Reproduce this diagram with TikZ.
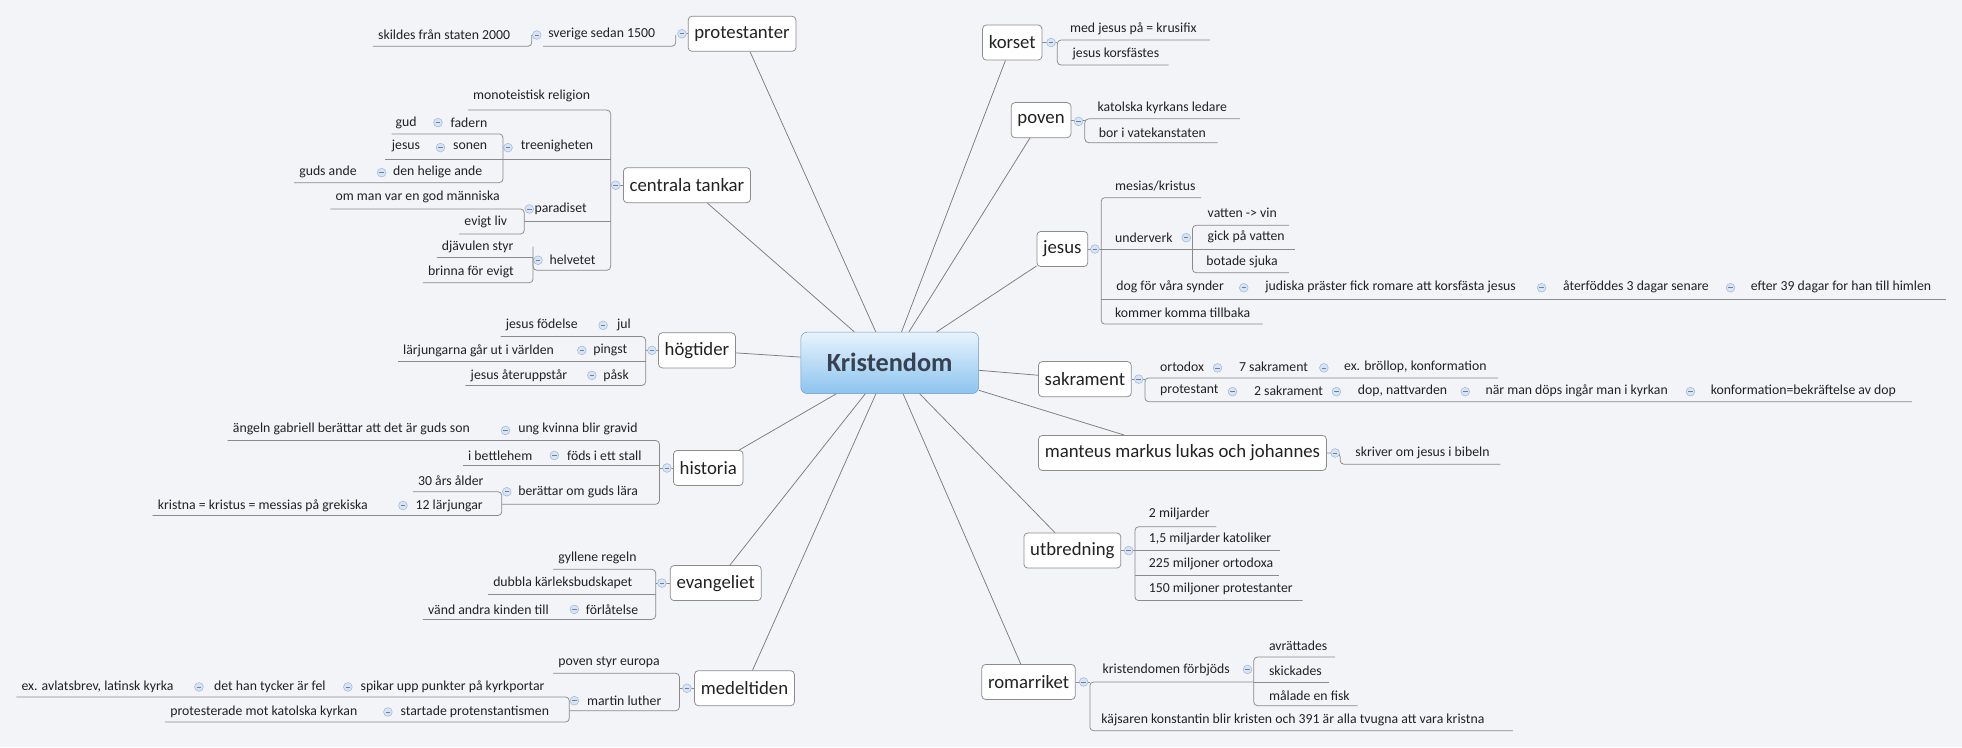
\documentclass[tikz,border=0pt]{standalone}
\usepackage{fontspec}
\setmainfont{Carlito}
\definecolor{bg}{HTML}{F2F4F8}
\definecolor{ln}{HTML}{8A8A8A}
\definecolor{bx}{HTML}{8C8C8C}
\definecolor{txt}{HTML}{222222}
\definecolor{icf}{HTML}{D6E4F5}
\definecolor{icd}{HTML}{9DB7DC}
\definecolor{kt}{HTML}{E8F3FD}
\definecolor{kb}{HTML}{8CC4EF}
\definecolor{kd}{HTML}{6A9CC9}
\definecolor{ktx}{HTML}{374150}
\newcommand\Lt[4]{\node[lt,anchor=east] (#1) at (#2,#3) {#4};}
\newcommand\Rt[4]{\node[lt,anchor=west] (#1) at (#2,#3) {#4};}
\newcommand\ci[2]{\node[ico] at (#1,#2) {};}
\begin{document}
\begin{tikzpicture}[x=1pt,y=-1pt,
  lt/.style={font=\fontsize{11}{12}\selectfont, text=txt, inner sep=0pt},
  topic/.style={draw=bx, fill=white, rounded corners=3pt, font=\fontsize{15}{16}\selectfont, text=txt, inner xsep=5pt, minimum height=28pt, line width=0.6pt},
  ul/.style={draw=ln, line width=0.6pt, rounded corners=3pt},
  ml/.style={draw=ln!90!black, line width=0.6pt},
  ico/.style={circle, minimum size=7pt, inner sep=0pt, fill=icf, draw=icd, line width=0.4pt,
    path picture={\draw[icd!70!black,line width=0.5pt] ([xshift=-1.8pt]path picture bounding box.center) -- ([xshift=1.8pt]path picture bounding box.center);}}]
\fill[bg] (0,0) rectangle (1568,597);
\useasboundingbox (0,0) rectangle (1568,597);

% centre
\node[draw=kd, rounded corners=5pt, top color=kt, bottom color=kb, minimum width=142pt, minimum height=49pt, font=\bfseries\fontsize{21}{24}\selectfont, text=ktx] (K) at (711,290) {Kristendom};

% main topics
\node[topic] (prot) at (593,27) {protestanter};
\node[topic] (cent) at (549,148) {centrala tankar};
\node[topic] (hogt) at (557,280) {högtider};
\node[topic] (hist) at (566,374) {historia};
\node[topic] (evan) at (572,466) {evangeliet};
\node[topic] (mede) at (595,550) {medeltiden};
\node[topic] (kors) at (809,34) {korset};
\node[topic] (pove) at (832,96) {poven};
\node[topic] (jesu) at (849,199) {jesus};
\node[topic] (sakr) at (867,303) {sakrament};
\node[topic] (mant) at (945,362) {manteus markus lukas och johannes};
\node[topic] (utbr) at (857,440) {utbredning};
\node[topic] (roma) at (822,545) {romarriket};

\foreach \t in {prot,cent,hogt,hist,evan,mede,kors,pove,jesu,sakr,mant,utbr,roma}
  \draw[ml] (K) -- (\t);

% ---------- protestanter
\draw[ul] (prot.west) -- (548,27);
\draw[ul] (434,37) -- (540,37) -- (540,28);
\draw[ul] (298,37) -- (425,37) -- (425,28);
\ci{545}{27}\ci{429}{28}
\Rt{p1}{438}{27}{sverige sedan 1500}
\Rt{p2}{302}{28}{skildes från staten 2000}

% ---------- centrala tankar
\draw[ul] (374,88) -- (488,88) -- (488,216) -- (426,216) -- (426,197);
\draw[ul] (488,148) -- (cent.west);
\ci{492}{148}
\Rt{c1}{378}{77}{monoteistisk religion}
\Rt{c2}{416}{117}{treenigheten}\ci{406}{118}
\draw[ul] (308,127) -- (488,127);
\draw[ul] (313,107) -- (402,107) -- (402,146) -- (235,146);
\Rt{c21}{360}{98}{fadern}\ci{350}{98}\Rt{c211}{316}{98}{gud}
\Rt{c22}{362}{117}{sonen}\ci{352}{118}\Rt{c221}{313}{117}{jesus}
\Rt{c23}{314}{137}{den helige ande}\ci{305}{138}\Rt{c231}{239}{137}{guds ande}
\Rt{c3}{427}{167}{paradiset}\ci{423}{167}
\draw[ul] (419,177) -- (488,177);
\draw[ul] (264,167) -- (419,167) -- (419,187) -- (367,187);
\Rt{c31}{268}{157}{om man var en god människa}
\Rt{c32}{371}{177}{evigt liv}
\Rt{c4}{439}{208}{helvetet}\ci{430}{208}
\draw[ul] (349,206) -- (426,206);
\draw[ul] (426,206) -- (426,226) -- (338,226);
\Rt{c41}{353}{197}{djävulen styr}
\Rt{c42}{342}{217}{brinna för evigt}

% ---------- högtider
\draw[ul] (400,269) -- (516,269) -- (516,308) -- (372,308);
\draw[ul] (318,289) -- (516,289);
\draw[ul] (516,280) -- (hogt.west);
\ci{521}{280}
\Rt{h1}{493}{260}{jul}\ci{482}{260}\Rt{h11}{404}{260}{jesus födelse}
\Rt{h2}{474}{280}{pingst}\ci{465}{280}\Rt{h21}{322}{280}{lärjungarna går ut i världen}
\Rt{h3}{482}{300}{påsk}\ci{473}{300}\Rt{h31}{376}{300}{jesus återuppstår}

% ---------- historia
\draw[ul] (182,352) -- (527,352) -- (527,403) -- (401,403);
\draw[ul] (370,372) -- (527,372);
\draw[ul] (527,374) -- (hist.west);
\ci{533}{374}
\Rt{i1}{414}{343}{ung kvinna blir gravid}\ci{404}{344}
\Rt{i11}{186}{343}{ängeln gabriell berättar att det är guds son}
\Rt{i2}{453}{364}{föds i ett stall}\ci{443}{364}\Rt{i21}{374}{364}{i bettlehem}
\Rt{i3}{414}{393}{berättar om guds lära}\ci{405}{393}
\draw[ul] (330,393) -- (401,393) -- (401,412) -- (122,412);
\Rt{i31}{334}{384}{30 års ålder}
\Rt{i32}{332}{404}{12 lärjungar}\ci{322}{404}
\Rt{i321}{126}{404}{kristna = kristus = messias på grekiska}

% ---------- evangeliet
\draw[ul] (442,455) -- (524,455) -- (524,495) -- (338,495);
\draw[ul] (390,475) -- (524,475);
\draw[ul] (524,466) -- (evan.west);
\ci{529}{466}
\Rt{e1}{446}{446}{gyllene regeln}
\Rt{e2}{394}{466}{dubbla kärleksbudskapet}
\Rt{e3}{468}{487}{förlåtelse}\ci{459}{487}\Rt{e31}{342}{487}{vänd andra kinden till}

% ---------- medeltiden
\draw[ul] (442,538) -- (543,538) -- (543,568) -- (455,568);
\draw[ul] (543,550) -- (mede.west);
\ci{549}{550}
\Rt{m1}{446}{529}{poven styr europa}
\Rt{m2}{469}{560}{martin luther}\ci{459}{560}
\draw[ul] (13,557) -- (455,557) -- (455,577) -- (132,577);
\Rt{m21}{288}{549}{spikar upp punkter på kyrkportar}\ci{278}{549}
\Rt{m211}{171}{549}{det han tycker är fel}\ci{159}{549}
\Rt{m2111}{17}{549}{ex. avlatsbrev, latinsk kyrka}
\Rt{m22}{320}{569}{startade protenstantismen}\ci{310}{569}
\Rt{m221}{136}{569}{protesterade mot katolska kyrkan}

% ---------- korset
\draw[ul] (kors.east) -- (845,34);
\draw[ul] (967,32) -- (845,32) -- (845,52) -- (934,52);
\ci{840}{34}
\Rt{k1}{855}{23}{med jesus på = krusifix}
\Rt{k2}{857}{43}{jesus korsfästes}

% ---------- poven
\draw[ul] (pove.east) -- (867,96);
\draw[ul] (991,95) -- (867,95) -- (867,114) -- (973,114);
\ci{862}{97}
\Rt{v1}{877}{86}{katolska kyrkans ledare}
\Rt{v2}{878}{106}{bor i vatekanstaten}

% ---------- jesus
\draw[ul] (jesu.east) -- (880,199);
\draw[ul] (960,158) -- (880,158) -- (880,259) -- (1009,259);
\draw[ul] (880,199) -- (953,199);
\draw[ul] (880,239) -- (1555,239);
\ci{875}{199}
\Rt{j1}{891}{149}{mesias/kristus}
\Rt{j2}{891}{190}{underverk}\ci{948}{190}
\draw[ul] (1030,180) -- (953,180) -- (953,218) -- (1030,218);
\draw[ul] (953,199) -- (1035,199);
\Rt{j21}{965}{170}{vatten -> vin}
\Rt{j22}{965}{189}{gick på vatten}
\Rt{j23}{964}{209}{botade sjuka}
\Rt{j3}{892}{229}{dog för våra synder}\ci{994}{230}
\Rt{j31}{1011}{229}{judiska präster fick romare att korsfästa jesus}\ci{1232}{230}
\Rt{j32}{1249}{229}{återföddes 3 dagar senare}\ci{1383}{230}
\Rt{j33}{1399}{229}{efter 39 dagar for han till himlen}
\Rt{j4}{891}{250}{kommer komma tillbaka}

% ---------- sakrament
\draw[ul] (sakr.east) -- (915,303);
\draw[ul] (1197,302) -- (915,302) -- (915,321) -- (1528,321);
\ci{910}{303}
\Rt{s1}{927}{293}{ortodox}\ci{973}{294}
\Rt{s11}{990}{293}{7 sakrament}\ci{1058}{294}
\Rt{s12}{1074}{293}{ex. bröllop, konformation}
\Rt{s2}{927}{312}{protestant}\ci{985}{313}
\Rt{s21}{1002}{312}{2 sakrament}\ci{1068}{313}
\Rt{s22}{1085}{312}{dop, nattvarden}\ci{1171}{313}
\Rt{s23}{1187}{312}{när man döps ingår man i kyrkan}\ci{1351}{313}
\Rt{s24}{1367}{312}{konformation=bekräftelse av dop}

% ---------- manteus
\draw[ul] (mant.east) -- (1071,362) -- (1071,371) -- (1199,371);
\ci{1067}{362}
\Rt{t1}{1083}{362}{skriver om jesus i bibeln}

% ---------- utbredning
\draw[ul] (utbr.east) -- (907,440);
\draw[ul] (972,421) -- (907,421) -- (907,480) -- (1041,480);
\draw[ul] (907,440) -- (1023,440);
\draw[ul] (907,460) -- (1022,460);
\ci{902}{440}
\Rt{u1}{918}{411}{2 miljarder}
\Rt{u2}{918}{431}{1,5 miljarder katoliker}
\Rt{u3}{918}{451}{225 miljoner ortodoxa}
\Rt{u4}{918}{471}{150 miljoner protestanter}

% ---------- romarriket
\draw[ul] (roma.east) -- (871,545);
\draw[ul] (1002,545) -- (871,545) -- (871,584) -- (1209,584);
\ci{866}{545}
\Rt{r1}{881}{535}{kristendomen förbjöds}\ci{997}{535}
\draw[ul] (1067,525) -- (1002,525) -- (1002,564) -- (1085,564);
\draw[ul] (1002,545) -- (1062,545);
\Rt{r11}{1014}{516}{avrättades}
\Rt{r12}{1014}{536}{skickades}
\Rt{r13}{1014}{556}{målade en fisk}
\Rt{r2}{880}{575}{käjsaren konstantin blir kristen och 391 är alla tvugna att vara kristna}
\end{tikzpicture}
\end{document}
